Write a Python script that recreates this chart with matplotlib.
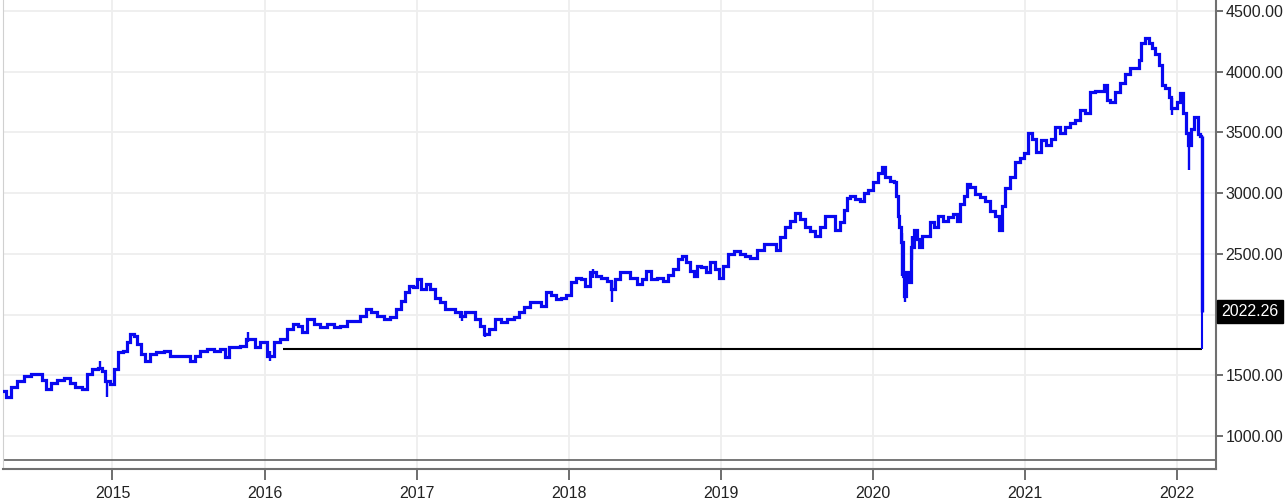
import matplotlib
matplotlib.use("Agg")
import matplotlib.pyplot as plt
import numpy as np

plt.rcParams['font.family'] = ['Liberation Sans', 'DejaVu Sans']

# decimal-year dates and closing values
dates = [2014.285, 2014.316, 2014.349, 2014.395, 2014.441, 2014.481, 2014.527, 2014.546, 2014.579, 2014.612,
         2014.658, 2014.704, 2014.737, 2014.776, 2014.822, 2014.842, 2014.888, 2014.921, 2014.941, 2014.967,
         2015.000, 2015.020, 2015.053, 2015.085, 2015.105, 2015.131, 2015.151, 2015.171, 2015.204, 2015.230,
         2015.263, 2015.316, 2015.362, 2015.401, 2015.447, 2015.493, 2015.526, 2015.559, 2015.598, 2015.644,
         2015.690, 2015.723, 2015.756, 2015.776, 2015.822, 2015.861, 2015.894, 2015.920, 2015.953, 2015.993,
         2016.039, 2016.085, 2016.124, 2016.170, 2016.203, 2016.236, 2016.256, 2016.302, 2016.348, 2016.387,
         2016.433, 2016.479, 2016.519, 2016.565, 2016.611, 2016.650, 2016.683, 2016.716, 2016.762, 2016.808,
         2016.847, 2016.880, 2016.913, 2016.940, 2016.959, 2016.992, 2017.012, 2017.045, 2017.078, 2017.104,
         2017.137, 2017.170, 2017.203, 2017.235, 2017.268, 2017.301, 2017.334, 2017.367, 2017.400, 2017.433,
         2017.452, 2017.498, 2017.538, 2017.571, 2017.617, 2017.663, 2017.682, 2017.728, 2017.768, 2017.801,
         2017.834, 2017.866, 2017.899, 2017.932, 2017.965, 2017.998, 2018.031, 2018.064, 2018.097, 2018.123,
         2018.159, 2018.195, 2018.228, 2018.274, 2018.287, 2018.320, 2018.353, 2018.386, 2018.425, 2018.471,
         2018.491, 2018.524, 2018.557, 2018.603, 2018.636, 2018.669, 2018.702, 2018.735, 2018.754, 2018.787,
         2018.813, 2018.833, 2018.853, 2018.886, 2018.918, 2018.945, 2018.978, 2018.997, 2019.030, 2019.063,
         2019.109, 2019.142, 2019.175, 2019.214, 2019.260, 2019.306, 2019.346, 2019.379, 2019.405, 2019.438,
         2019.471, 2019.510, 2019.536, 2019.569, 2019.602, 2019.635, 2019.668, 2019.701, 2019.734, 2019.767,
         2019.799, 2019.819, 2019.839, 2019.865, 2019.898, 2019.931, 2019.951, 2019.984, 2020.016, 2020.049,
         2020.069, 2020.095, 2020.128, 2020.148, 2020.161, 2020.168, 2020.181, 2020.194, 2020.201, 2020.214,
         2020.227, 2020.247, 2020.260, 2020.279, 2020.299, 2020.312, 2020.332, 2020.365, 2020.391, 2020.411,
         2020.444, 2020.477, 2020.510, 2020.542, 2020.562, 2020.588, 2020.608, 2020.628, 2020.654, 2020.687,
         2020.720, 2020.753, 2020.786, 2020.819, 2020.838, 2020.858, 2020.884, 2020.917, 2020.950, 2020.983,
         2021.003, 2021.036, 2021.055, 2021.088, 2021.121, 2021.154, 2021.187, 2021.213, 2021.246, 2021.279,
         2021.312, 2021.345, 2021.377, 2021.410, 2021.443, 2021.476, 2021.509, 2021.529, 2021.548, 2021.575,
         2021.607, 2021.640, 2021.673, 2021.706, 2021.739, 2021.758, 2021.778, 2021.805, 2021.824, 2021.844,
         2021.870, 2021.890, 2021.910, 2021.936, 2021.956, 2021.969, 2021.989, 2022.009, 2022.029, 2022.048,
         2022.068, 2022.081, 2022.101, 2022.127, 2022.147, 2022.160]
closes = [1368, 1320, 1400, 1450, 1490, 1510, 1510, 1465, 1385, 1440,
          1465, 1475, 1440, 1400, 1385, 1510, 1550, 1560, 1535, 1450,
          1425, 1550, 1690, 1700, 1770, 1840, 1820, 1755, 1675, 1615,
          1675, 1690, 1700, 1655, 1655, 1655, 1615, 1655, 1700, 1715,
          1700, 1715, 1650, 1730, 1730, 1740, 1800, 1795, 1730, 1770,
          1655, 1775, 1795, 1880, 1920, 1905, 1860, 1960, 1920, 1895,
          1920, 1895, 1905, 1945, 1945, 1985, 2045, 2020, 1985, 1960,
          1980, 2045, 2110, 2185, 2235, 2225, 2290, 2210, 2250, 2210,
          2140, 2100, 2045, 2045, 2025, 1990, 2025, 2020, 1960, 1905,
          1840, 1880, 1960, 1935, 1960, 1980, 2025, 2060, 2100, 2100,
          2070, 2185, 2165, 2125, 2140, 2160, 2265, 2305, 2290, 2235,
          2350, 2315, 2305, 2275, 2210, 2290, 2350, 2350, 2305, 2250,
          2290, 2355, 2290, 2305, 2275, 2330, 2375, 2455, 2480, 2430,
          2355, 2315, 2400, 2390, 2350, 2430, 2375, 2305, 2400, 2495,
          2520, 2495, 2480, 2470, 2535, 2580, 2580, 2535, 2635, 2725,
          2770, 2840, 2785, 2720, 2685, 2645, 2725, 2810, 2810, 2700,
          2760, 2865, 2960, 2975, 2950, 2935, 3005, 3030, 3090, 3170,
          3215, 3130, 3100, 3090, 2975, 2810, 2725, 2600, 2315, 2150,
          2350, 2265, 2560, 2700, 2620, 2560, 2645, 2645, 2760, 2725,
          2810, 2770, 2800, 2825, 2770, 2910, 2975, 3075, 3050, 2990,
          2965, 2935, 2850, 2810, 2700, 2895, 3045, 3135, 3260, 3290,
          3330, 3495, 3450, 3335, 3435, 3395, 3450, 3545, 3495, 3545,
          3575, 3600, 3685, 3660, 3830, 3845, 3845, 3890, 3765, 3750,
          3830, 3905, 3985, 4030, 4035, 4095, 4240, 4275, 4235, 4195,
          4150, 4055, 3890, 3870, 3790, 3700, 3705, 3750, 3825, 3660,
          3495, 3400, 3525, 3625, 3485, 3470]

# intraday extremes (date, low, high) for visible wicks
spike_dates = [2014.921, 2014.967, 2015.894, 2016.039, 2017.301, 2017.452, 2018.287,
               2020.194, 2020.214, 2021.969, 2022.081, 2018.159, 2020.260]
spike_lows = [1540, 1325, 1770, 1615, 1945, 1815, 2100, 2315, 2100, 3640, 3190, 2300, 2450]
spike_highs = [1615, 1460, 1855, 1700, 2030, 1860, 2280, 2670, 2350, 3780, 3500, 2375, 2650]

last_date = 2022.163
last_high = 3470
last_low = 1718
last_close = 2022.26
support_start = 2016.124
support_level = 1718
panel_floor = 802

y_ticks = [1000, 1500, 2000, 2500, 3000, 3500, 4000, 4500]
x_ticks = [2015, 2016, 2017, 2018, 2019, 2020, 2021, 2022]

fig = plt.figure(figsize=(12.86, 5.01), dpi=100)
ax = fig.add_axes([3 / 1286, 32 / 501, 1213 / 1286, 469 / 501])

blue = '#0808f0'
ax.plot(dates, closes, drawstyle='steps-mid', color=blue, lw=2.3, solid_joinstyle='miter', zorder=3)
ax.vlines(spike_dates, spike_lows, spike_highs, color=blue, lw=1.7, zorder=3)
ax.vlines([last_date], [last_low], [last_high], color=blue, lw=1.5, zorder=3)
ax.vlines([last_date], [last_close], [last_high], color=blue, lw=2.4, zorder=3)

ax.hlines(support_level, support_start, last_date, color='black', lw=1.5, zorder=2)
ax.axhline(panel_floor, color='#606060', lw=1.2, zorder=2)

ax.set_xlim(2014.28, 2022.258)
ax.set_ylim(728, 4591)

ax.set_yticks(y_ticks)
# the 2000.00 label sits behind the last-price tag in the chart
ax.set_yticklabels(["" if v == 2000 else f"{v:.2f}" for v in y_ticks])
ax.set_xticks(x_ticks)
ax.set_xticklabels([str(v) for v in x_ticks])
ax.yaxis.tick_right()
ax.grid(True, color='#eeeeee', lw=1.3, zorder=0)

ax.spines['top'].set_visible(False)
ax.spines['left'].set_color('#d0d0d0')
ax.spines['right'].set_color('#707070')
ax.spines['bottom'].set_color('#707070')
ax.spines['right'].set_linewidth(1.5)
ax.spines['bottom'].set_linewidth(1.5)

ax.tick_params(axis='y', which='both', length=5, width=1.2, color='#555555', labelsize=11.5,
               labelcolor='#222222', pad=2)
ax.tick_params(axis='x', which='both', length=8, width=1.2, color='#555555', labelsize=11.5,
               labelcolor='#222222', pad=4)

ax.text(1.0045, last_close, f"{last_close:.2f}", transform=ax.get_yaxis_transform(),
        ha='left', va='center', color='white', fontsize=11.5,
        bbox=dict(boxstyle='square,pad=0.25', facecolor='black', edgecolor='black'), zorder=5,
        clip_on=False)

fig.savefig('out.png', dpi=100)
